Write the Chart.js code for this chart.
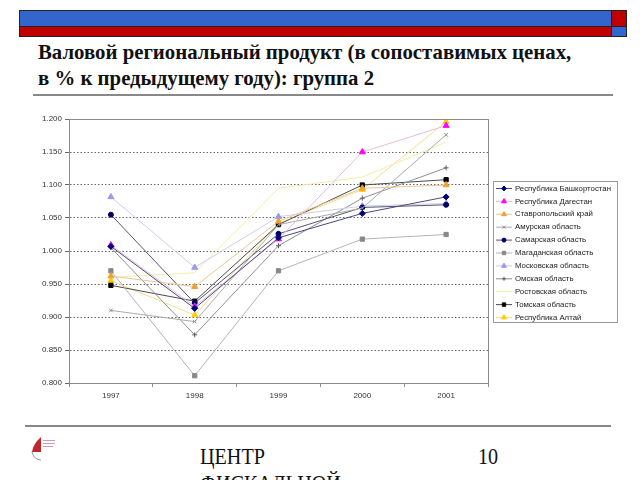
<!DOCTYPE html>
<html lang="ru">
<head>
<meta charset="utf-8">
<script src="https://cdn.jsdelivr.net/npm/chart.js@4"></script>
<style>
  html, body { margin: 0; padding: 0; background: #fff; width: 640px; height: 480px; overflow: hidden; }
  .bar { position: absolute; box-sizing: border-box; border: 1px solid #222; }
  .serif { font-family: 'Liberation Serif', 'DejaVu Serif', 'Times New Roman', serif; }
  .title { position: absolute; left: 38px; top: 39px; font-weight: bold; font-size: 21px; line-height: 26px; color: #111; white-space: nowrap; transform: scaleX(0.99); transform-origin: left top; }
  .rule { position: absolute; height: 2px; background: #888; }
  .foot { position: absolute; font-size: 24px; color: #111; line-height: 27px; transform: scaleX(0.84); transform-origin: left top; }
  #wrap { position: absolute; left: 30px; top: 105px; width: 595px; height: 305px; }
</style>
</head>
<body>
<div class="bar" style="left:19px;top:10px;width:593px;height:17px;background:#3366cc"></div>
<div class="bar" style="left:19px;top:26px;width:593px;height:11px;background:#c00000"></div>
<div class="bar" style="left:611px;top:10px;width:16px;height:17px;background:#c00000"></div>
<div class="bar" style="left:611px;top:26px;width:16px;height:11px;background:#3366cc"></div>
<div class="title serif">Валовой региональный продукт (в сопоставимых ценах,<br>в % к предыдущему году): группа 2</div>
<div class="rule" style="left:33px;top:94px;width:580px"></div>
<div id="wrap"><canvas id="grp"></canvas></div>
<div class="rule" style="left:25px;top:425px;width:586px"></div>
<svg style="position:absolute;left:28px;top:436px" width="30" height="28" viewBox="0 0 30 28">
  <path d="M4 15 A9 9 0 0 0 13 24" fill="none" stroke="#999" stroke-width="1"/>
  <path d="M4 16 Q5 8 13 1 L13 16 Z" fill="#c0282d"/>
  <rect x="15" y="4" width="12" height="1" fill="#c9b"/>
  <rect x="15" y="7" width="12" height="1" fill="#c9b"/>
  <rect x="15" y="10" width="10" height="1" fill="#c9b"/>
</svg>
<div class="foot serif" style="left:200px;top:443px">ЦЕНТР<br>ФИСКАЛЬНОЙ</div>
<div class="foot serif" style="left:478px;top:443px">10</div>
<script>
const years = ['1997', '1998', '1999', '2000', '2001'];
const yTicks = [0.8, 0.85, 0.9, 0.95, 1.0, 1.05, 1.1, 1.15, 1.2];

const bashkortostan = [1.007, 0.913, 1.020, 1.057, 1.082];
const dagestan      = [1.009, 0.916, 1.018, 1.150, 1.190];
const stavropol     = [0.962, 0.946, 1.045, 1.095, 1.100];
const amur          = [0.910, 0.893, 1.040, 1.065, 1.176];
const samara        = [1.055, 0.921, 1.026, 1.066, 1.070];
const magadan       = [0.970, 0.811, 0.970, 1.018, 1.025];
const moscow        = [1.082, 0.975, 1.052, 1.068, 1.072];
const omsk          = [1.005, 0.873, 1.008, 1.080, 1.126];
const rostov        = [0.960, 0.967, 1.095, 1.112, 1.165];
const tomsk         = [0.948, 0.924, 1.040, 1.100, 1.108];
const altai         = [0.955, 0.903, 1.042, 1.093, 1.196];

function series(label, data, line, mark, style, r) {
    return {
        label: label,
        data: data,
        borderColor: line,
        backgroundColor: mark,
        pointBackgroundColor: mark,
        pointBorderColor: mark,
        pointStyle: style,
        pointRadius: r,
        pointBorderWidth: 1,
        borderWidth: 1,
        tension: 0
    };
}

const datasets = [
    series('Республика Башкортостан', bashkortostan, '#4a4a80', '#000080', 'rectRot', 3),
    series('Республика Дагестан', dagestan, '#e6bcdf', '#ff00ff', 'triangle', 3.5),
    series('Ставропольский край', stavropol, '#e8c694', '#f0a030', 'triangle', 3.5),
    series('Амурская область', amur, '#ababab', '#8a8a8a', 'crossRot', 2.5),
    series('Самарская область', samara, '#55556f', '#000066', 'circle', 2.5),
    series('Магаданская область', magadan, '#b4b4b4', '#888888', 'rect', 3),
    series('Московская область', moscow, '#cdcde8', '#9999ee', 'triangle', 3.5),
    series('Омская область', omsk, '#8e8e98', '#5a5a66', 'cross', 2.5),
    series('Ростовская область', rostov, '#f2eeaa', '#f2eeaa', 'circle', 0),
    series('Томская область', tomsk, '#4a4a4a', '#000000', 'rect', 3),
    series('Республика Алтай', altai, '#f3e08e', '#ffcc00', 'triangle', 3.5)
];

// plot frame + boxed legend like the Excel original
const frameAndLegend = {
    id: 'frameAndLegend',
    afterDatasetsDraw(chart) {
        const c = chart.ctx, a = chart.chartArea;
        c.save();
        c.strokeStyle = '#8c8c8c';
        c.lineWidth = 1;
        c.strokeRect(Math.round(a.left) + 0.5, Math.round(a.top) + 0.5, Math.round(a.right - a.left), Math.round(a.bottom - a.top));

        const lx = 463, ly = 76, lw = 124, lh = 141;
        c.fillStyle = '#fff';
        c.fillRect(lx, ly, lw, lh);
        c.strokeStyle = '#999';
        c.strokeRect(lx + 0.5, ly + 0.5, lw, lh);
        c.font = '7.8px Arial, "Liberation Sans", sans-serif';
        c.textBaseline = 'middle';
        chart.data.datasets.forEach((ds, i) => {
            const y = ly + 7 + i * 12.9;
            c.strokeStyle = ds.borderColor;
            c.beginPath();
            c.moveTo(lx + 3, y + 0.5);
            c.lineTo(lx + 19, y + 0.5);
            c.stroke();
            if (ds.pointRadius > 0) {
                c.fillStyle = ds.pointBackgroundColor;
                c.strokeStyle = ds.pointBorderColor;
                Chart.helpers.drawPoint(c, { pointStyle: ds.pointStyle, radius: ds.pointRadius * 0.8, rotation: 0, borderWidth: 1 }, lx + 11, y + 0.5);
            }
            c.fillStyle = '#222';
            c.fillText(ds.label, lx + 22, y + 0.5);
        });
        c.restore();
    }
};

new Chart(document.getElementById('grp'), {
    type: 'line',
    data: { labels: years, datasets: datasets },
    options: {
        responsive: true,
        maintainAspectRatio: false,
        animation: false,
        layout: { padding: { top: 14, right: 137, bottom: 7, left: 0 } },
        plugins: { legend: { display: false }, tooltip: { enabled: false } },
        scales: {
            x: {
                offset: true,
                grid: { offset: true, drawOnChartArea: false, color: '#8c8c8c', tickLength: 4 },
                border: { color: '#8c8c8c' },
                ticks: { color: '#333', font: { size: 8, family: 'Arial' }, padding: 4 },
                afterFit(s) { s.height = 20; }
            },
            y: {
                min: 0.8,
                max: 1.2,
                afterBuildTicks(s) { s.ticks = yTicks.map(v => ({ value: v })); },
                grid: { color: '#666', lineWidth: 1, tickLength: 4, drawTicks: true },
                border: { color: '#8c8c8c', dash: [1.5, 2] },
                ticks: {
                    color: '#333',
                    font: { size: 8, family: 'Arial' },
                    padding: 3,
                    callback: v => v.toFixed(3)
                },
                afterFit(s) { s.width = 39; }
            }
        }
    },
    plugins: [frameAndLegend]
});
</script>
</body>
</html>
